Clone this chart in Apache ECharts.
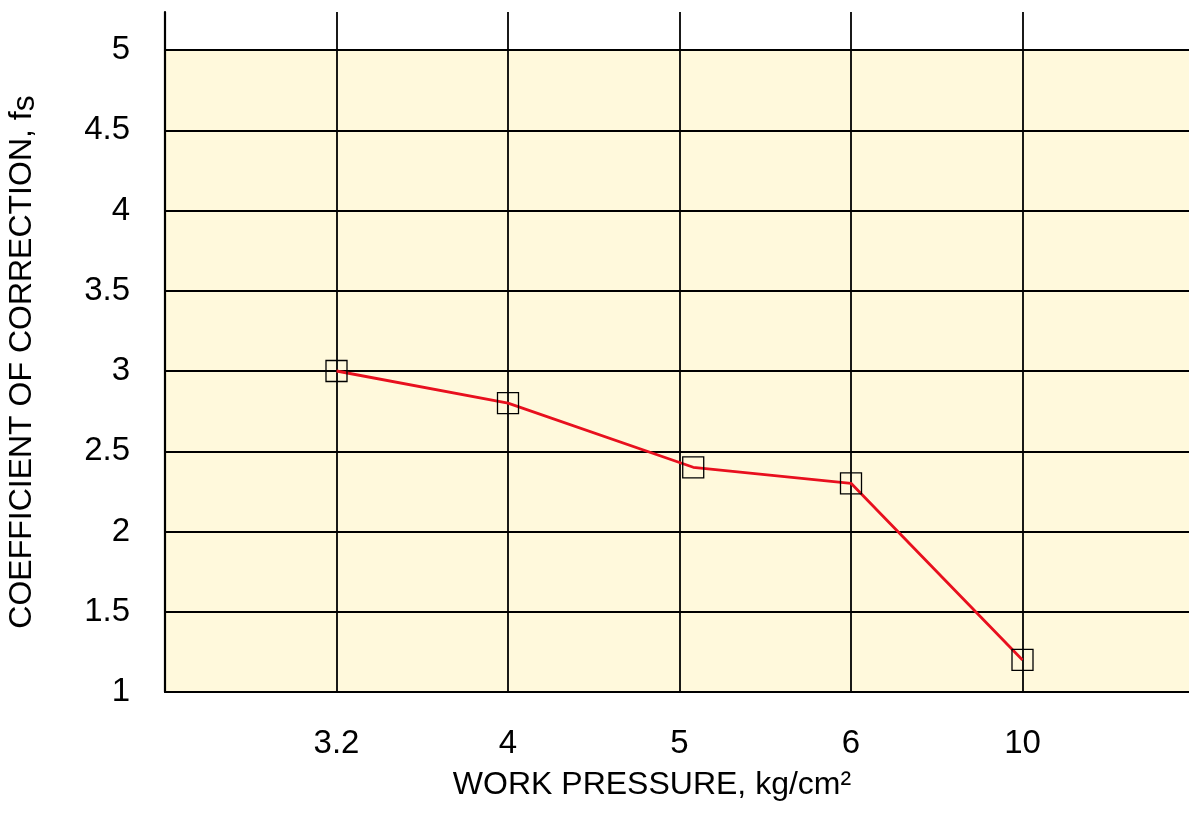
<!DOCTYPE html>
<html>
<head>
<meta charset="utf-8">
<script src="https://cdn.jsdelivr.net/npm/echarts@6/dist/echarts.min.js"></script>
<style>
  html, body { margin: 0; padding: 0; background: #fff; }
  #chart { width: 1189px; height: 813px; }
</style>
</head>
<body>
<div id="chart"></div>
<script>
// work pressure tick labels, shown at evenly spaced positions
const tickLabels = ['3.2', '4', '5', '6', '10'];
// horizontal position of each measured point (in tick units)
const pointPos = [1, 2, 3.08, 4, 5];
// coefficient of correction f_s
const fsValues = [3.0, 2.8, 2.4, 2.3, 1.2];

const chart = echarts.init(document.getElementById('chart'));
const font = 'Liberation Sans, Arial, sans-serif';
const black = '#000';

const option = {
  animation: false,
  grid: [
    {
      left: 165, top: 50, width: 1029, height: 642,
      outerBoundsMode: 'none',
      show: true, backgroundColor: '#fff9dc', borderWidth: 0
    },
    // thin strip above the plot where the vertical lines stick out
    { left: 165, top: 12, width: 1029, height: 38, outerBoundsMode: 'none', show: false }
  ],
  xAxis: [
    {
      type: 'value', gridIndex: 0, min: 0, max: 6, interval: 1,
      axisLine: { lineStyle: { color: black, width: 2.2 } },
      axisTick: { show: false },
      axisLabel: {
        margin: 35, fontSize: 33, color: black, fontFamily: font,
        formatter: v => tickLabels[v - 1] || ''
      },
      splitLine: { show: true, lineStyle: { color: black, width: 1.8 } },
      name: 'WORK PRESSURE, kg/cm²',
      nameLocation: 'middle',
      nameGap: 77,
      nameTextStyle: { fontSize: 32, color: black, fontFamily: font, padding: [0, 55, 0, 0] }
    },
    {
      type: 'value', gridIndex: 1, min: 0, max: 6, interval: 1,
      axisLine: { show: false },
      axisTick: { show: false },
      axisLabel: { show: false },
      splitLine: { show: true, lineStyle: { color: black, width: 1.8 } }
    }
  ],
  yAxis: [
    {
      type: 'value', gridIndex: 0, min: 1, max: 5, interval: 0.5,
      axisLine: { show: true, lineStyle: { color: black, width: 2.2 } },
      axisTick: { show: false },
      axisLabel: { margin: 35, fontSize: 33, color: black, fontFamily: font },
      splitLine: { show: true, lineStyle: { color: black, width: 1.8 } },
      name: '{t|COEFFICIENT OF CORRECTION, f}{s|s}',
      nameLocation: 'middle',
      nameGap: 124,
      nameRotate: 90,
      nameTextStyle: {
        padding: [0, 0, 0, 18],
        rich: {
          t: { fontSize: 32, color: black, fontFamily: font },
          s: { fontSize: 32, color: black, fontFamily: font, padding: [6, 0, 0, 0] }
        }
      }
    },
    {
      type: 'value', gridIndex: 1, min: 0, max: 1,
      axisLine: { show: true, lineStyle: { color: black, width: 2.2 } },
      axisTick: { show: false },
      axisLabel: { show: false },
      splitLine: { show: false }
    }
  ],
  series: [
    {
      type: 'line',
      xAxisIndex: 0,
      yAxisIndex: 0,
      data: pointPos.map((x, i) => [x, fsValues[i]]),
      lineStyle: { color: '#e8101e', width: 2.8 },
      symbol: 'rect',
      symbolSize: 21,
      itemStyle: { color: 'rgba(0,0,0,0)', borderColor: black, borderWidth: 1.3 },
      z: 3
    }
  ]
};

chart.setOption(option);
</script>
</body>
</html>
